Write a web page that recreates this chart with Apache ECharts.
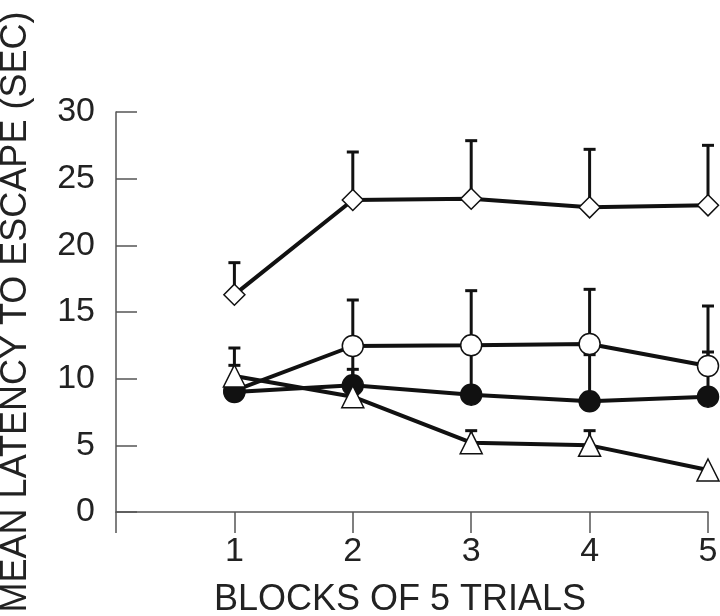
<!DOCTYPE html>
<html>
<head>
<meta charset="utf-8">
<script src="https://cdn.jsdelivr.net/npm/echarts@6/dist/echarts.min.js"></script>
<style>
  html, body { margin: 0; background: #fff; }
  #chart { width: 720px; height: 616px; }
</style>
</head>
<body>
<div id="chart"></div>
<script>
// values (mean and top of the upward error bar)
const blocks = [1, 2, 3, 4, 5];
const diamondMean = [16.3, 23.4, 23.5, 22.85, 23.0];
const diamondUpper = [18.7, 27.0, 27.85, 27.2, 27.5];
const openCircleMean = [9.1, 12.45, 12.5, 12.6, 10.95];
const openCircleUpper = [11.0, 15.9, 16.6, 16.7, 15.45];
const filledCircleMean = [9.0, 9.5, 8.8, 8.3, 8.65];
const filledCircleUpper = [null, 10.7, 12.2, 11.8, 12.0];
const triangleMean = [10.2, 8.65, 5.2, 5.0, 3.15];
const triangleUpper = [12.3, 12.2, 6.1, 6.1, null];

const FONT = "'Liberation Sans', Arial, sans-serif";
const INK = '#111';

const chart = echarts.init(document.getElementById('chart'));

function errorBars(mean, upper) {
  return {
    type: 'custom',
    z: 1,
    silent: true,
    data: blocks.map((b, i) => [b, mean[i], upper[i]]).filter(d => d[2] != null),
    renderItem(params, api) {
      const base = api.coord([api.value(0), api.value(1)]);
      const top = api.coord([api.value(0), api.value(2)]);
      const st = { stroke: INK, lineWidth: 3 };
      return {
        type: 'group',
        children: [
          { type: 'line', shape: { x1: base[0], y1: base[1], x2: top[0], y2: top[1] }, style: st },
          { type: 'line', shape: { x1: top[0] - 6, y1: top[1], x2: top[0] + 6, y2: top[1] }, style: st }
        ]
      };
    }
  };
}

function lineSeries(mean, symbol, size, fill) {
  return {
    type: 'line',
    z: 3,
    data: blocks.map((b, i) => [b, mean[i]]),
    symbol: symbol,
    symbolSize: size,
    showAllSymbol: true,
    lineStyle: { color: INK, width: 4 },
    itemStyle: { color: fill, borderColor: INK, borderWidth: 1.5 },
    emphasis: { disabled: true }
  };
}

const option = {
  animation: false,
  backgroundColor: '#fff',
  grid: { left: 116, right: 12, top: 112, bottom: 104, outerBoundsMode: 'none' },
  xAxis: {
    type: 'value',
    min: 0,
    max: 5,
    interval: 1,
    name: 'BLOCKS OF 5 TRIALS',
    nameLocation: 'middle',
    nameGap: 70,
    nameTextStyle: { fontFamily: FONT, fontSize: 36, color: '#222', padding: [0, 24, 0, 0] },
    axisLine: { show: true, lineStyle: { color: '#555', width: 1.5 } },
    axisTick: { show: true, length: 21, lineStyle: { color: '#555', width: 1.5 } },
    axisLabel: {
      margin: 23,
      fontFamily: FONT,
      fontSize: 34,
      color: '#222',
      formatter: v => (v === 0 ? '' : String(v))
    },
    splitLine: { show: false }
  },
  yAxis: {
    type: 'value',
    min: 0,
    max: 30,
    interval: 5,
    name: 'MEAN LATENCY TO ESCAPE (SEC)',
    nameLocation: 'middle',
    nameGap: 82,
    nameTextStyle: { fontFamily: FONT, fontSize: 36, color: '#222' },
    axisLine: { show: true, lineStyle: { color: '#555', width: 1.5 } },
    axisTick: { show: true, inside: true, length: 21, lineStyle: { color: '#555', width: 1.5 } },
    axisLabel: { margin: 21, fontFamily: FONT, fontSize: 34, color: '#222' },
    splitLine: { show: false }
  },
  series: [
    errorBars(diamondMean, diamondUpper),
    errorBars(openCircleMean, openCircleUpper),
    errorBars(filledCircleMean, filledCircleUpper),
    errorBars(triangleMean, triangleUpper),
    lineSeries(openCircleMean, 'circle', 21, '#fff'),
    lineSeries(filledCircleMean, 'circle', 21, INK),
    lineSeries(triangleMean, 'triangle', [22, 22], '#fff'),
    lineSeries(diamondMean, 'diamond', [21, 21], '#fff')
  ]
};

chart.setOption(option);
</script>
</body>
</html>
